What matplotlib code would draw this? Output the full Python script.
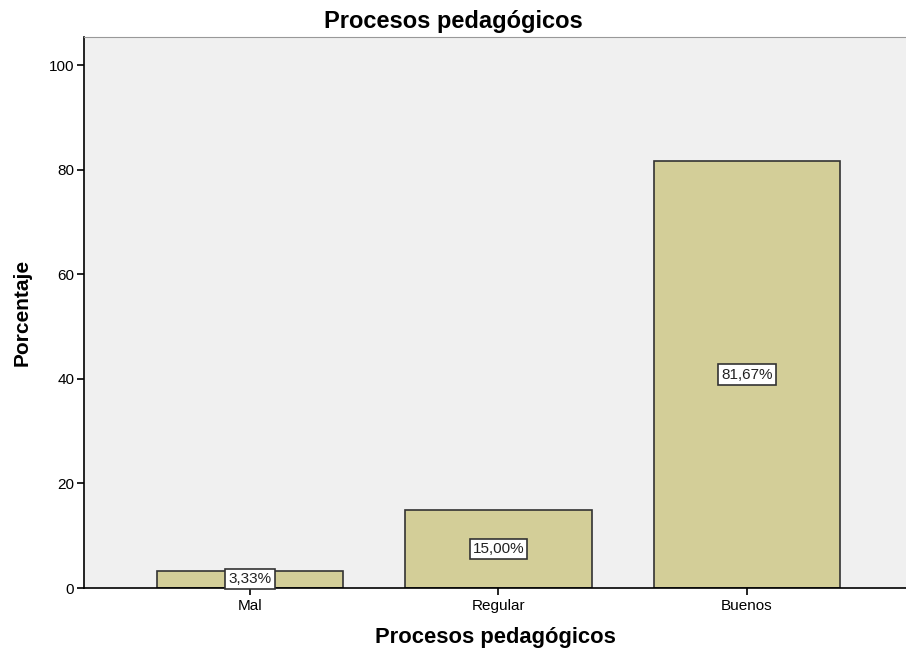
import matplotlib.pyplot as plt
import numpy as np

plt.rcParams['font.family'] = ['Liberation Sans', 'DejaVu Sans']

categories = ['Mal', 'Regular', 'Buenos']
percentages = [3.33, 15.00, 81.67]
value_labels = ['3,33%', '15,00%', '81,67%']

fig = plt.figure(figsize=(9.06, 6.52), dpi=100)
ax = fig.add_axes([84/906, 1 - 588/652, (906-84)/906, (588-37)/652])
ax.set_facecolor('#f0f0f0')

x = np.arange(len(categories))
ax.bar(x, percentages, width=0.75, color='#d3ce98', edgecolor='#333333', linewidth=1.2, zorder=2)

# value labels in the middle of each bar
for xi, val, lab in zip(x, percentages, value_labels):
    ax.text(xi, val / 2, lab, ha='center', va='center', fontsize=11, color='#222222', zorder=3,
            bbox=dict(boxstyle='square,pad=0.2', facecolor='white', edgecolor='#333333', linewidth=1.2))

ax.set_xlim(-0.668, 2.64)
ax.set_ylim(0, 105.4)
ax.set_yticks([0, 20, 40, 60, 80, 100])
ax.set_xticks(x)
ax.set_xticklabels(categories, fontsize=11)
ax.tick_params(axis='y', labelsize=11, length=5, width=1.2, pad=2)
ax.tick_params(axis='x', length=5, width=1.2, pad=3)

ax.spines['right'].set_visible(False)
ax.spines['top'].set_color('#999999')
ax.spines['left'].set_linewidth(1.2)
ax.spines['bottom'].set_linewidth(1.2)

# the title sits centred on the whole figure, not the axes
fig.text(0.5, 1 - 28/652, 'Procesos pedagógicos', ha='center', va='baseline',
         fontsize=17, fontweight='bold')
ax.set_xlabel('Procesos pedagógicos', fontsize=15.8, fontweight='bold', labelpad=10)
ax.set_ylabel('Porcentaje', fontsize=15, fontweight='bold', labelpad=12)

fig.savefig('out.png', dpi=100)
